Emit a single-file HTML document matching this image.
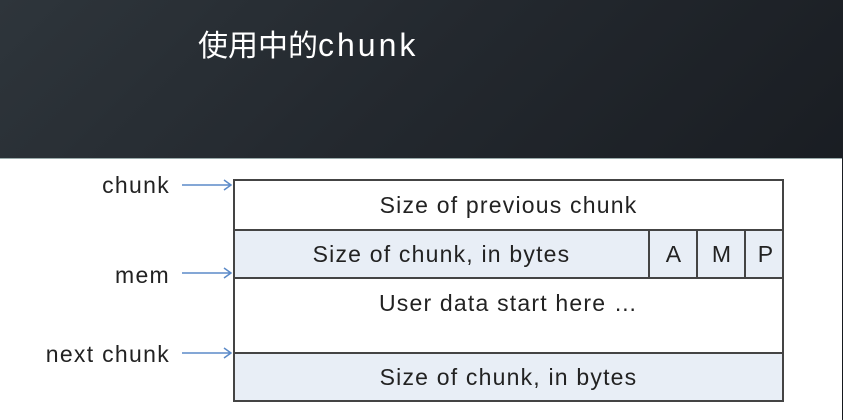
<!DOCTYPE html>
<html><head><meta charset="utf-8"><style>
html,body{margin:0;padding:0}
body{width:843px;height:419px;overflow:hidden;position:relative;background:linear-gradient(135deg,#2e353b 0%,#23282e 40%,#15181d 100%);font-family:"Liberation Sans","Noto Sans CJK SC",sans-serif}
.title{position:absolute;left:198px;top:27px;color:#fff;font-size:30px;line-height:36px}
.title span{font-size:32px;letter-spacing:3px}
.panel{position:absolute;left:0;top:158px;width:842px;height:261px;background:#fff;border-top:1px solid #9aa}
.lbl{position:absolute;right:673px;font-size:23px;letter-spacing:1.3px;color:#222;line-height:26px;white-space:nowrap}
.row{position:absolute;left:233px;width:551px;border:2px solid #444;box-sizing:border-box;font-size:23px;letter-spacing:1.2px;color:#222;display:flex;align-items:center;justify-content:center;white-space:nowrap}
</style></head><body>
<div class="title">使用中的<span>chunk</span></div>
<div class="panel"></div>
<div class="lbl" style="top:172px">chunk</div>
<div class="lbl" style="top:262px">mem</div>
<div class="lbl" style="top:341px">next chunk</div>
<svg style="position:absolute;left:0;top:0" width="843" height="419">
<g stroke="#5b8ac8" stroke-width="1.5" fill="none">
<path d="M182 185H231M224 180L231 185L224 190"/>
<path d="M182 273H231M224 268L231 273L224 278"/>
<path d="M182 353H231M224 348L231 353L224 358"/>
</g></svg>
<div class="row" style="top:179px;height:52px;background:#fff">Size of previous chunk</div>
<div class="row" style="top:229px;height:50px;background:#e8eef6;justify-content:flex-start">
<span style="width:413px;text-align:center">Size of chunk, in bytes</span>
<span style="position:absolute;left:413px;top:0;bottom:0;width:48px;border-left:2px solid #444;display:flex;align-items:center;justify-content:center">A</span>
<span style="position:absolute;left:461px;top:0;bottom:0;width:48px;border-left:2px solid #444;display:flex;align-items:center;justify-content:center">M</span>
<span style="position:absolute;left:509px;top:0;bottom:0;width:40px;border-left:2px solid #444;display:flex;align-items:center;justify-content:center">P</span>
</div>
<div class="row" style="top:277px;height:77px;background:#fff;align-items:flex-start;padding-top:11px">User data start here …</div>
<div class="row" style="top:352px;height:50px;background:#e8eef6">Size of chunk, in bytes</div>
</body></html>
